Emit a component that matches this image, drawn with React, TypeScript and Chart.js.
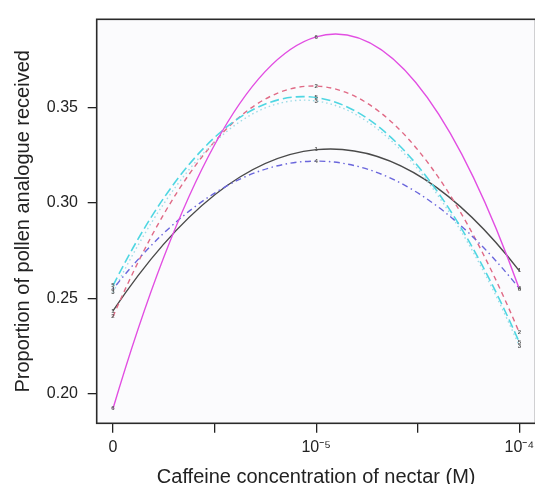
import React, { useEffect, useRef } from "react";
import { Chart, registerables } from "chart.js";

Chart.register(...registerables);

// ---- data ----
const X_POSITIONS = [0, 1, 2];
const X_TICKS = [0, 0.5, 1, 1.5, 2];
const X_TICK_LABELS = ["0", "", "10⁻⁵", "", "10⁻⁴"];
const Y_TICKS = [0.2, 0.25, 0.3, 0.35];
const Y_TICK_LABELS = ["0.20", "0.25", "0.30", "0.35"];

const SERIES_NAMES = ["1", "2", "3", "4", "5", "6"];
const SERIES_1 = [0.2435, 0.328, 0.2645];
const SERIES_2 = [0.2405, 0.3613, 0.232];
const SERIES_3 = [0.2531, 0.3535, 0.225];
const SERIES_4 = [0.2549, 0.322, 0.2552];
const SERIES_5 = [0.2567, 0.3553, 0.227];
const SERIES_6 = [0.1922, 0.3871, 0.255];

const X_TITLE = "Caffeine concentration of nectar (M)";
const Y_TITLE = "Proportion of pollen analogue received";

// ---- styles ----
const SERIES = [SERIES_1, SERIES_2, SERIES_3, SERIES_4, SERIES_5, SERIES_6];
const COLORS = ["#4a4a4a", "#e06a86", "#9fdbe6", "#6a66dc", "#4fd6e2", "#e24ee2"];
const DASHES: number[][] = [[], [5, 4], [1.5, 3], [1.5, 3.5, 6, 3.5], [9, 4], []];
const WIDTHS = [1.4, 1.4, 1.4, 1.4, 1.6, 1.4];
const FONT = "'Liberation Sans', Arial, Helvetica, sans-serif";

const boxPlugin = {
  id: "box",
  beforeDatasetsDraw(chart: any) {
    const { ctx, chartArea: a } = chart;
    ctx.save();
    ctx.fillStyle = "#fbfbfd";
    ctx.fillRect(a.left, a.top, a.right - a.left, a.bottom - a.top);
    ctx.restore();
  },
  afterDatasetsDraw(chart: any) {
    const { ctx, chartArea: a } = chart;
    ctx.save();
    ctx.strokeStyle = "#2a2a2a";
    ctx.lineWidth = 1.6;
    ctx.strokeRect(a.left, a.top, a.right - a.left, a.bottom - a.top);
    ctx.restore();
  },
};

const curvePlugin = {
  id: "quadCurves",
  afterDatasetsDraw(chart: any) {
    const { ctx, chartArea: a } = chart;
    ctx.save();
    ctx.beginPath();
    ctx.rect(a.left, a.top, a.right - a.left, a.bottom - a.top);
    ctx.clip();
    chart.data.datasets.forEach((ds: any, i: number) => {
      const pts = chart.getDatasetMeta(i).data;
      if (pts.length < 3) return;
      const p0 = pts[0], p1 = pts[1], p2 = pts[2];
      const cx = p1.x;
      const cy = 2 * p1.y - (p0.y + p2.y) / 2;
      ctx.beginPath();
      ctx.strokeStyle = ds.borderColor;
      ctx.lineWidth = ds.borderWidth;
      ctx.setLineDash(ds.borderDash || []);
      ctx.moveTo(p0.x, p0.y);
      ctx.quadraticCurveTo(cx, cy, p2.x, p2.y);
      ctx.stroke();
    });
    ctx.setLineDash([]);
    ctx.font = `bold 6px ${FONT}`;
    ctx.fillStyle = "#555";
    ctx.textAlign = "center";
    ctx.textBaseline = "middle";
    chart.data.datasets.forEach((ds: any, i: number) => {
      chart.getDatasetMeta(i).data.forEach((p: any) => {
        ctx.fillText(ds.label, p.x, p.y);
      });
    });
    ctx.restore();
  },
};

export default function App() {
  const ref = useRef<HTMLCanvasElement | null>(null);
  useEffect(() => {
    if (!ref.current) return;
    const chart = new Chart(ref.current, {
      type: "line",
      data: {
        datasets: SERIES.map((s, i) => ({
          label: SERIES_NAMES[i],
          data: s.map((y, j) => ({ x: X_POSITIONS[j], y })),
          showLine: false,
          pointRadius: 0,
          borderColor: COLORS[i],
          backgroundColor: COLORS[i],
          borderDash: DASHES[i],
          borderWidth: WIDTHS[i],
        })),
      },
      options: {
        animation: false,
        responsive: false,
        layout: { padding: { top: 14, right: 10.4, left: 0, bottom: 0 } },
        plugins: { legend: { display: false }, tooltip: { enabled: false } },
        scales: {
          x: {
            type: "linear",
            min: -0.08,
            max: 2.08,
            afterBuildTicks: (ax: any) => {
              ax.ticks = X_TICKS.map((v) => ({ value: v }));
            },
            afterFit: (ax: any) => {
              ax.height = 76.7;
            },
            grid: { drawOnChartArea: false, drawTicks: true, tickLength: 9.5, color: "#222", lineWidth: 1.3 },
            border: { display: false },
            ticks: {
              autoSkip: false,
              maxRotation: 0,
              padding: 5,
              color: "#222",
              font: { family: FONT, size: 16 },
              callback: (_v: any, i: number) => X_TICK_LABELS[i],
            },
            title: {
              display: true,
              text: X_TITLE,
              color: "#222",
              font: { family: FONT, size: 20 },
              padding: { top: 0, bottom: 11 },
            },
          },
          y: {
            type: "linear",
            min: 0.1846,
            max: 0.3963,
            afterBuildTicks: (ax: any) => {
              ax.ticks = Y_TICKS.map((v) => ({ value: v }));
            },
            afterFit: (ax: any) => {
              ax.width = 96.7;
            },
            grid: { drawOnChartArea: false, drawTicks: true, tickLength: 9, color: "#222", lineWidth: 1.3 },
            border: { display: false },
            ticks: {
              padding: 9.7,
              color: "#222",
              font: { family: FONT, size: 16 },
              callback: (_v: any, i: number) => Y_TICK_LABELS[i],
            },
            title: {
              display: true,
              text: Y_TITLE,
              color: "#222",
              font: { family: FONT, size: 20 },
              padding: { top: 11, bottom: 0 },
            },
          },
        },
      },
      plugins: [boxPlugin, curvePlugin],
    } as any);
    return () => chart.destroy();
  }, []);
  return (
    <div
      style={{
        position: "fixed",
        left: 0,
        top: 0,
        width: 535,
        height: 484,
        overflow: "hidden",
        background: "#fff",
      }}
    >
      <canvas ref={ref} width={546} height={500} style={{ display: "block", width: 546, height: 500 }} />
    </div>
  );
}
